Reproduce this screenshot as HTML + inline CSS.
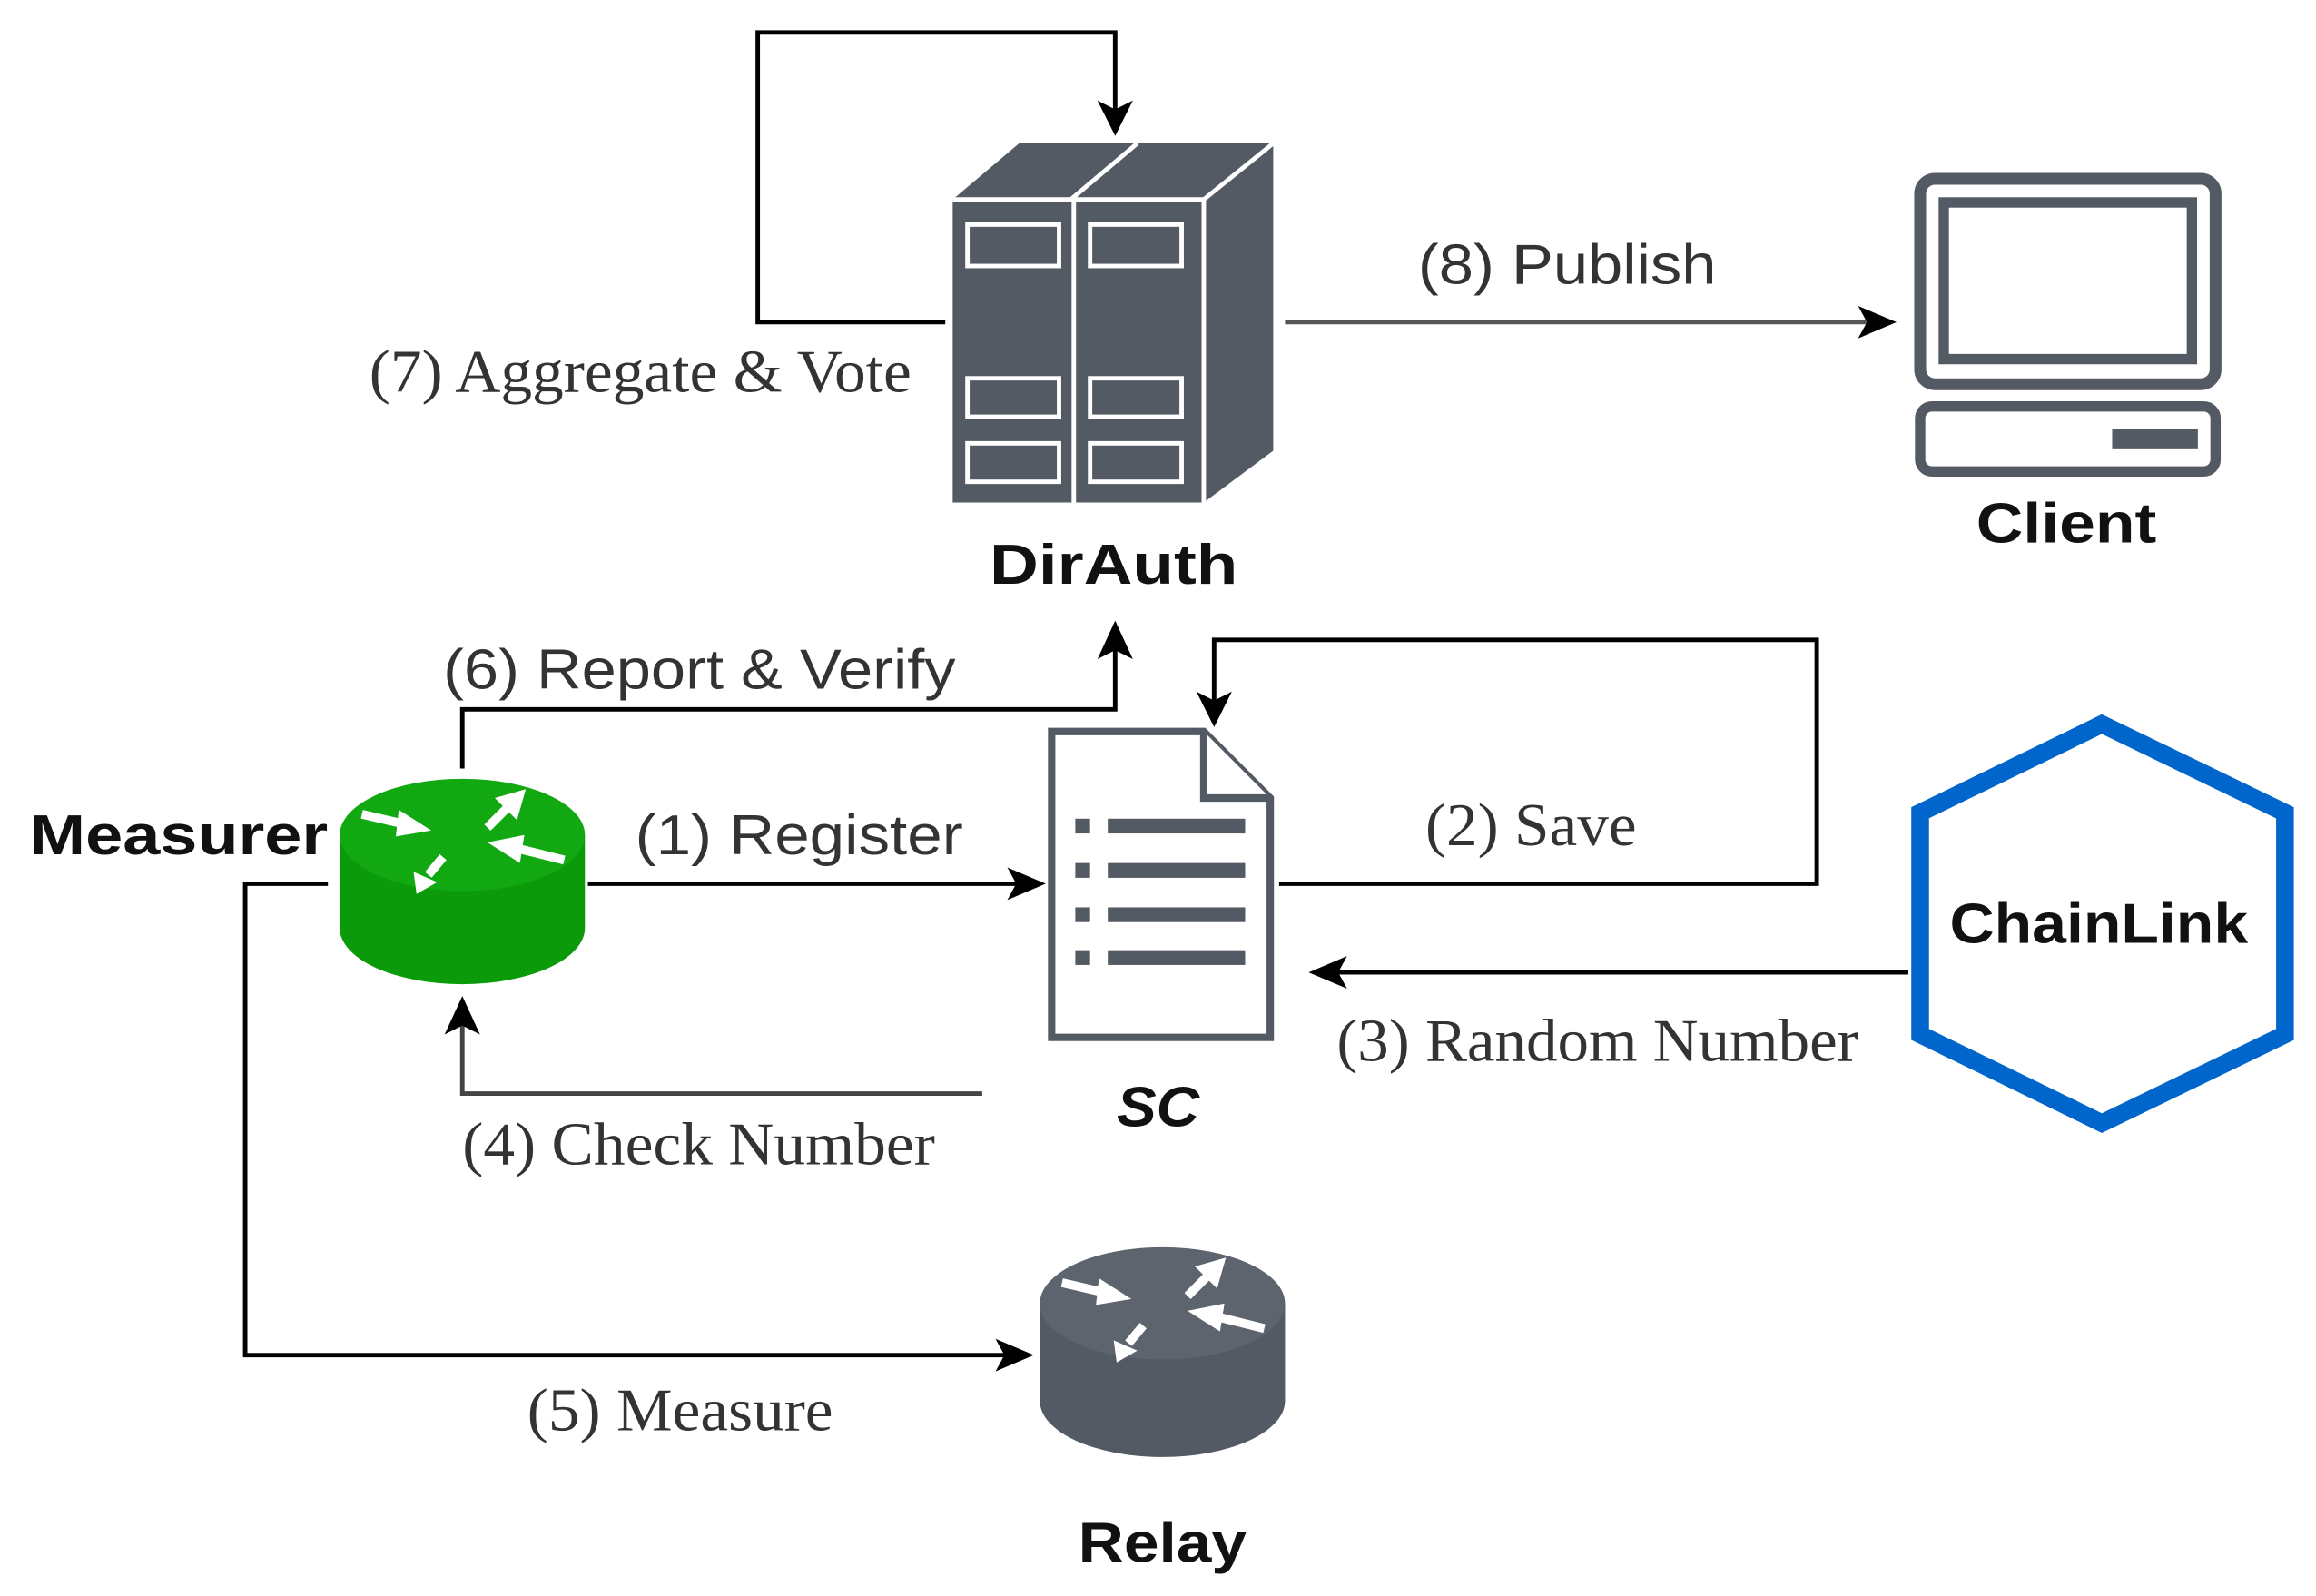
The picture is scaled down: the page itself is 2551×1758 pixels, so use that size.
<!DOCTYPE html>
<html><head><meta charset="utf-8"><style>
html,body{margin:0;padding:0;background:#fff;}
svg{display:block;}
.s{font-family:"Liberation Sans",sans-serif;font-size:38px;fill:#333;}
.r{font-family:"Liberation Serif",serif;font-size:41px;fill:#333;}
.b{font-family:"Liberation Sans",sans-serif;font-size:38px;font-weight:bold;fill:#111;}
</style></head><body>
<svg width="2551" height="1758" viewBox="0 0 1568 1080" preserveAspectRatio="none" xmlns="http://www.w3.org/2000/svg">
<g fill="none" stroke="#000" stroke-width="3">
<polyline points="640,218 513,218 513,22 755,22 755,80"/>
<line x1="870" y1="218" x2="1270" y2="218" stroke="#555"/>
<polyline points="313,520 313,480 755,480 755,430"/>
<line x1="398" y1="598" x2="695" y2="598"/>
<polyline points="866,598 1230,598 1230,433 822,433 822,480"/>
<line x1="1292" y1="658" x2="898" y2="658"/>
<polyline points="665,740 313,740 313,688" stroke="#444"/>
<polyline points="222,598 166,598 166,917 688,917"/>
</g>
<g fill="#000">
<path d="M743,68 L755,92 L767,68 L755,74z"/>
<path d="M1258,207 L1284,218 L1258,229 L1264,218z"/>
<path d="M743,446 L755,420 L767,446 L755,440z"/>
<path d="M682,587 L708,598 L682,609 L688,598z"/>
<path d="M810,468 L822,492 L834,468 L822,474z"/>
<path d="M912,647 L886,658 L912,669 L906,658z"/>
<path d="M301,700 L313,674 L325,700 L313,694z"/>
<path d="M674,906 L700,917 L674,928 L680,917z"/>
</g>
<!-- DirAuth -->
<polygon points="645,135 690,97 862,97 862,305 815,340 645,340" fill="#535a63"/>
<g stroke="#fff" stroke-width="3" fill="none">
<polyline points="725,135 770,97"/><line x1="645" y1="135" x2="815" y2="135"/>
<line x1="815" y1="135" x2="862" y2="97"/><line x1="815" y1="135" x2="815" y2="340"/>
<line x1="727" y1="135" x2="727" y2="340"/>
<rect x="655" y="152" width="62" height="28"/><rect x="738" y="152" width="62" height="28"/>
<rect x="655" y="256" width="62" height="26"/><rect x="738" y="256" width="62" height="26"/>
<rect x="655" y="300" width="62" height="26"/><rect x="738" y="300" width="62" height="26"/>
</g>
<!-- Client -->
<rect x="1300" y="121" width="200" height="139" rx="10" fill="none" stroke="#535a63" stroke-width="8"/>
<rect x="1316" y="137" width="168" height="106" fill="none" stroke="#535a63" stroke-width="7"/>
<rect x="1300" y="275" width="200" height="44" rx="8" fill="none" stroke="#535a63" stroke-width="7"/>
<rect x="1430" y="290" width="58" height="14" fill="#535a63"/>
<!-- Measurer router -->
<path d="M230,565 L230,628 A83,38 0 0 0 396,628 L396,565z" fill="#0a9a0a"/>
<ellipse cx="313" cy="565" rx="83" ry="38" fill="#12a812"/>
<g stroke="#fff" stroke-width="6" fill="#fff">
<line x1="245" y1="551" x2="275" y2="558"/><path d="M270,548 L292,562 L268,566z" stroke="none"/>
<line x1="330" y1="560" x2="345" y2="545"/><path d="M335,540 L356,534 L350,555z" stroke="none"/>
<line x1="382" y1="582" x2="350" y2="574"/><path d="M355,565 L330,570 L352,584z" stroke="none"/>
<line x1="300" y1="580" x2="290" y2="592"/><path d="M280,590 L282,605 L296,597z" stroke="none"/>
</g>
<!-- Relay router -->
<path d="M704,882 L704,948 A83,38 0 0 0 870,948 L870,882z" fill="#535a63"/>
<ellipse cx="787" cy="882" rx="83" ry="38" fill="#5d646d"/>
<g stroke="#fff" stroke-width="6" fill="#fff">
<line x1="719" y1="868" x2="749" y2="875"/><path d="M744,865 L766,879 L742,883z" stroke="none"/>
<line x1="804" y1="877" x2="819" y2="862"/><path d="M809,857 L830,851 L824,872z" stroke="none"/>
<line x1="856" y1="899" x2="824" y2="891"/><path d="M829,882 L804,887 L826,901z" stroke="none"/>
<line x1="774" y1="897" x2="764" y2="909"/><path d="M754,907 L756,922 L770,914z" stroke="none"/>
</g>
<!-- SC document -->
<path d="M712,495 L815,495 L860,540 L860,702 L712,702 z" fill="#fff" stroke="#535a63" stroke-width="5"/>
<path d="M815,495 L815,540 L860,540" fill="#fff" stroke="#535a63" stroke-width="5"/>
<g fill="#535a63">
<rect x="728" y="554" width="10" height="10"/><rect x="750" y="554" width="93" height="10"/>
<rect x="728" y="584" width="10" height="10"/><rect x="750" y="584" width="93" height="10"/>
<rect x="728" y="614" width="10" height="10"/><rect x="750" y="614" width="93" height="10"/>
<rect x="728" y="643" width="10" height="10"/><rect x="750" y="643" width="93" height="10"/>
</g>
<!-- ChainLink -->
<polygon points="1423,490 1547,550 1547,700 1423,760 1300,700 1300,550" fill="none" stroke="#0066cc" stroke-width="12"/>
<!-- labels -->
<text class="r" x="250" y="265" textLength="367" lengthAdjust="spacingAndGlyphs">(7) Aggregate &amp; Vote</text>
<text class="s" x="960" y="192" textLength="202" lengthAdjust="spacingAndGlyphs">(8) Publish</text>
<text class="b" x="1338" y="367" textLength="122" lengthAdjust="spacingAndGlyphs">Client</text>
<text class="b" x="670" y="395" textLength="168" lengthAdjust="spacingAndGlyphs">DirAuth</text>
<text class="s" x="300" y="466" textLength="347" lengthAdjust="spacingAndGlyphs">(6) Report &amp; Verify</text>
<text class="b" x="20" y="578" textLength="202" lengthAdjust="spacingAndGlyphs">Measurer</text>
<text class="s" x="430" y="578" textLength="222" lengthAdjust="spacingAndGlyphs">(1) Register</text>
<text class="r" x="965" y="572" textLength="143" lengthAdjust="spacingAndGlyphs">(2) Save</text>
<text class="b" x="1320" y="638" textLength="202" lengthAdjust="spacingAndGlyphs">ChainLink</text>
<text class="r" x="905" y="718" textLength="353" lengthAdjust="spacingAndGlyphs">(3) Random Number</text>
<text class="b" x="756" y="762" font-style="italic" textLength="56" lengthAdjust="spacingAndGlyphs">SC</text>
<text class="r" x="313" y="788" textLength="320" lengthAdjust="spacingAndGlyphs">(4) Check Number</text>
<text class="r" x="357" y="968" textLength="207" lengthAdjust="spacingAndGlyphs">(5) Measure</text>
<text class="b" x="730" y="1057" textLength="114" lengthAdjust="spacingAndGlyphs">Relay</text>
</svg>
</body></html>
